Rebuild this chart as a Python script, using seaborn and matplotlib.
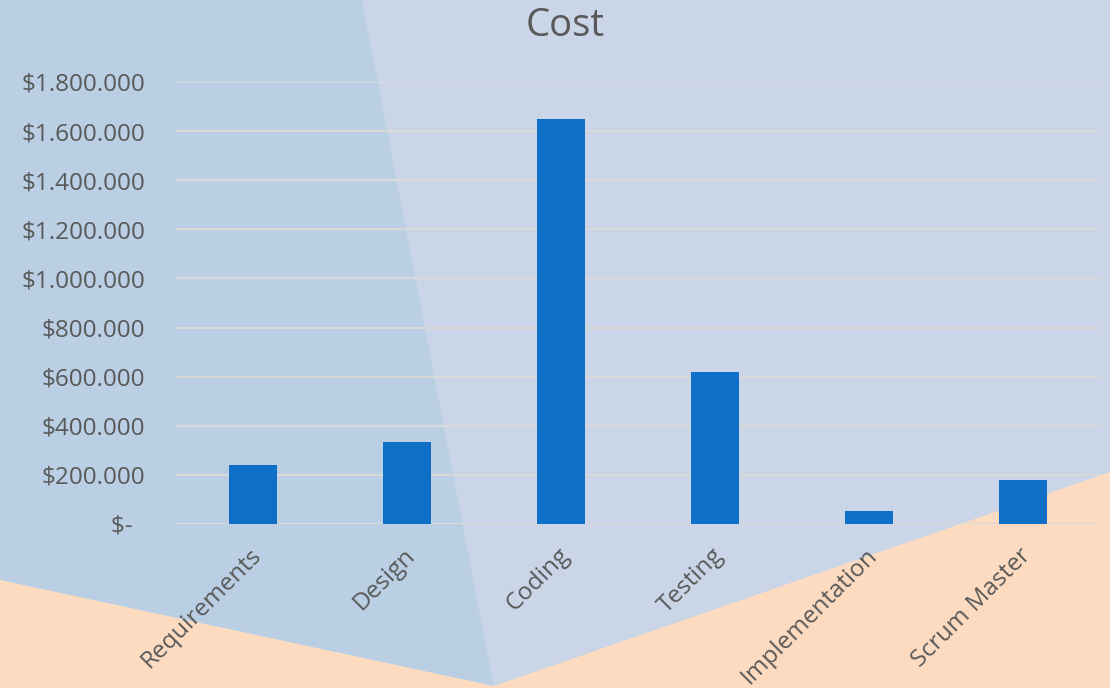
import matplotlib
matplotlib.use("Agg")
import matplotlib.pyplot as plt
import matplotlib.transforms as mtransforms
import seaborn as sns
import pandas as pd
from matplotlib.patches import Polygon
from matplotlib.ticker import FuncFormatter

categories = ["Requirements", "Design", "Coding", "Testing", "Implementation", "Scrum Master"]
costs = [240000, 334000, 1650000, 619000, 53000, 179000]
y_ticks = [0, 200000, 400000, 600000, 800000, 1000000, 1200000, 1400000, 1600000, 1800000]

sns.set_theme(style="white")
plt.rcParams['font.family'] = ['Open Sans', 'DejaVu Sans']

TEXT = "#595959"
BAR = "#0F6FC6"

fig = plt.figure(figsize=(11.1, 6.88), dpi=100)

# background decoration
bg = fig.add_axes([0, 0, 1, 1], zorder=0)
bg.set_xlim(0, 1110)
bg.set_ylim(688, 0)
bg.axis("off")
bg.add_patch(Polygon([(0, 0), (1110, 0), (1110, 688), (0, 688)], closed=True, color="#CBD5E8", lw=0))
bg.add_patch(Polygon([(0, 0), (362, 0), (494, 688), (0, 688)], closed=True, color="#BACFE3", lw=0))
bg.add_patch(Polygon([(0, 580), (494, 686), (1110, 472), (1110, 688), (0, 688)], closed=True, color="#FCDBC0", lw=0))

ax = fig.add_axes([176 / 1110, 164 / 688, 924 / 1110, 442 / 688], zorder=1)
ax.patch.set_alpha(0)

df = pd.DataFrame({"Category": categories, "Cost": costs})
sns.barplot(data=df, x="Category", y="Cost", color=BAR, saturation=1, width=0.31,
            ax=ax, zorder=3, edgecolor="none", linewidth=0)

ax.set_ylim(0, 1800000)
ax.set_yticks(y_ticks)

def fmt(v, pos):
    if v == 0:
        return "$-  "
    return "$" + f"{int(v):,}".replace(",", ".")

ax.yaxis.set_major_formatter(FuncFormatter(fmt))
ax.grid(axis="y", color="#D9D9D9", lw=1.6, zorder=0)
ax.set_axisbelow(True)
for s in ax.spines.values():
    s.set_visible(False)
ax.tick_params(axis="y", length=0, pad=22, labelsize=17.5, labelcolor=TEXT)
ax.tick_params(axis="x", length=0, pad=14, labelsize=17.5, labelcolor=TEXT)
offset = mtransforms.ScaledTranslation(-4 / 100, 0, fig.dpi_scale_trans)
for lbl in ax.get_xticklabels():
    lbl.set_rotation(45)
    lbl.set_ha("right")
    lbl.set_rotation_mode("anchor")
    lbl.set_transform(lbl.get_transform() + offset)
ax.set_xlabel("")
ax.set_ylabel("")

fig.text(565 / 1110, 1 - 26 / 688, "Cost", ha="center", va="center", fontsize=27.5, color=TEXT)

fig.savefig("out.png", dpi=100)
